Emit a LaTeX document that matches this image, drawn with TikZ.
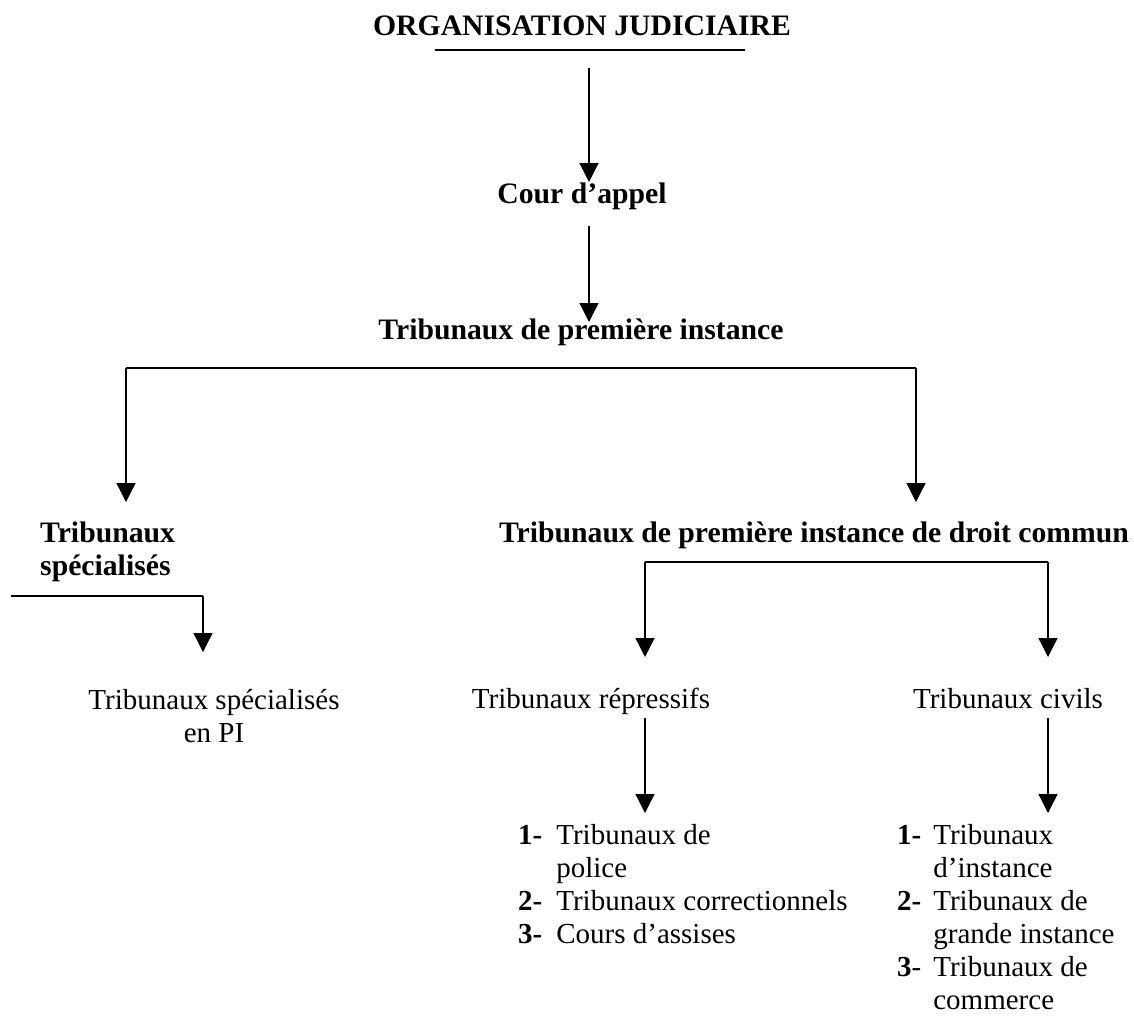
\documentclass[tikz,border=0pt]{standalone}
\usepackage{fontspec}
\setmainfont{Liberation Serif}
\usetikzlibrary{arrows.meta,positioning}

\begin{document}
\begin{tikzpicture}[x=1pt,y=-1pt,
      every node/.style={inner sep=0pt,font=\fontsize{29}{33}\selectfont},
      head/.style={font=\fontsize{29.7}{33}\selectfont\bfseries},
      arr/.style={line width=1.3pt,-{Triangle[length=19pt,width=19pt]}},
      bar/.style={line width=1.8pt}]
    \useasboundingbox (0,0) rectangle (1134,1015);
    \node[head,anchor=base] (title) at (582,35)  {ORGANISATION JUDICIAIRE};
    \draw[bar] (435,50) -- (745,50);
    \node[head,anchor=base] (cour)  at (582,203) {Cour d’appel};
    \node[head,anchor=base] (tpi)   at (581,339) {Tribunaux de première instance};
    \node[head,anchor=base west,align=left] (tspec) at (40,575) {Tribunaux\\spécialisés};
    \node[head,anchor=base] (dc)    at (814,542) {Tribunaux de première instance de droit commun};
    \node[anchor=base,align=center] (tspi) at (214,742) {Tribunaux spécialisés\\en PI};
    \node[anchor=base] (repr) at (591,708)  {Tribunaux répressifs};
    \node[anchor=base] (civ)  at (1008,708) {Tribunaux civils};
    \node[anchor=base west] (lrepr) at (518,844) {\begin{tabular}[t]{@{}l@{\hspace{14pt}}l@{}}
        \textbf{1-} & Tribunaux de\\
                    & police\\
        \textbf{2-} & Tribunaux correctionnels\\
        \textbf{3-} & Cours d’assises
      \end{tabular}};
    \node[anchor=base west] (lciv) at (897,844) {\begin{tabular}[t]{@{}l@{\hspace{12pt}}l@{}}
        \textbf{1-} & Tribunaux\\
                    & d’instance\\
        \textbf{2-} & Tribunaux de\\
                    & grande instance\\
        \textbf{3}- & Tribunaux de\\
                    & commerce
      \end{tabular}};
    % brackets
    \coordinate (b1l) at (126,368);
    \coordinate (b1r) at (916,368);
    \coordinate (b2l) at (645,562);
    \coordinate (b2r) at (1048,562);
    \coordinate (b3l) at (11,596);
    \coordinate (b3r) at (203,596);
    \draw[arr,shorten <=33pt,shorten >=21pt] ([xshift=7pt]title.base) -- ([xshift=7pt]cour.base);
    \draw[arr,shorten <=23pt,shorten >=17pt] ([xshift=7pt]cour.base) -- ([xshift=8pt]tpi.base);
    \draw[bar] (b1l) -- (b1r);
    \draw[arr,shorten >=73pt] (b1l) -- (b1l |- tspec.base);
    \draw[arr,shorten >=40pt] (b1r) -- (b1r |- dc.base);
    \draw[bar] (b2l) -- (b2r);
    \draw[arr,shorten >=51pt] (b2l) -- (b2l |- repr.base);
    \draw[arr,shorten >=51pt] (b2r) -- (b2r |- civ.base);
    \draw[bar] (b3l) -- (b3r);
    \draw[arr,shorten >=90pt] (b3r) -- (b3r |- tspi.base);
    \draw[arr,shorten <=10pt,shorten >=31pt] (b2l |- repr.base) -- (b2l |- lrepr.base);
    \draw[arr,shorten <=10pt,shorten >=31pt] (b2r |- civ.base) -- (b2r |- lciv.base);
  \end{tikzpicture}
\end{document}
